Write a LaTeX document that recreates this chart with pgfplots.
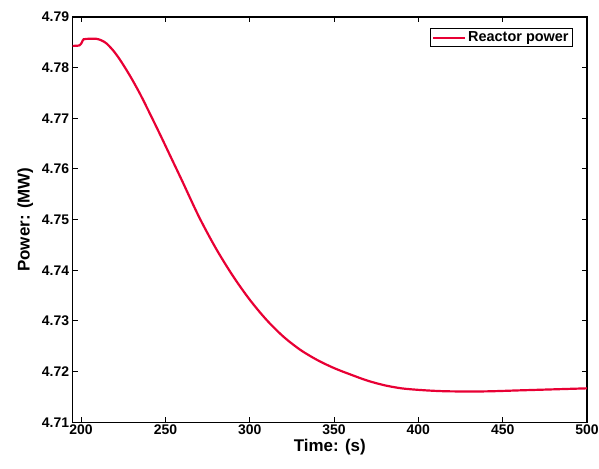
\documentclass[border=0pt]{standalone}
\usepackage{fontspec}
\setmainfont{Liberation Sans}
\usepackage{pgfplots}
\pgfplotsset{compat=1.18}
\definecolor{rp}{RGB}{232,0,52}
\begin{document}
\begin{tikzpicture}[x=1bp,y=1bp]
\begin{axis}[
  scale only axis,
  width=514bp, height=405bp,
  xmin=195, xmax=500, ymin=4.71, ymax=4.79,
  xtick={200,250,...,500},
  ytick={4.71,4.72,4.73,4.74,4.75,4.76,4.77,4.78,4.79},
  scaled y ticks=false,
  yticklabel style={/pgf/number format/.cd,fixed,fixed zerofill,precision=2},
  /pgf/number format/assume math mode=true,
  tick align=inside,
  major tick length=5bp,
  tick style={black, line width=1pt},
  axis line style={black, line width=1.3pt},
  ticklabel style={font=\fontsize{14}{14}\selectfont\bfseries},
  xticklabel style={yshift=1bp},
  xlabel={Time: (s)}, ylabel={Power: (MW)},
  label style={font=\fontsize{17}{17}\selectfont\bfseries},
  xlabel style={yshift=2bp},
  ylabel style={yshift=2bp},
  legend style={at={(0.972,0.973)}, anchor=north east, draw=black, line width=1pt,
    font=\fontsize{14.5}{14.5}\selectfont\bfseries, inner sep=1.5bp},
  legend image code/.code={\draw[#1, line width=2.2pt] (0bp,0bp) -- (32bp,0bp);},
  legend cell align=left,
]
\addplot[rp, line width=2.2pt, smooth, tension=0.5] coordinates {
(195,4.7843)(199,4.7844)(200.5,4.7850)(201.5,4.7856)(205,4.7857)(209,4.7857)
(212,4.7854)(215,4.7848)(219,4.7834)(223,4.7816)(229,4.7784)(235,4.7748)
(241,4.7708)(247,4.7667)(253,4.7625)(260,4.7576)(270,4.7505)
(280,4.7443)(290,4.7389)(300,4.7342)(310,4.7302)(320,4.7269)(330,4.7243)
(340,4.7223)(350,4.7207)(360,4.7194)(370,4.7182)(380,4.7173)(390,4.7167)
(400,4.7164)(410,4.7162)(420,4.7161)(440,4.7161)(460,4.7163)(480,4.7165)(500,4.7167)
};
\addlegendentry{Reactor power}
\end{axis}
\pgfresetboundingbox
\path (current axis.south west) ++(-72.6bp,-46bp) coordinate (bl);
\path (current axis.north east) ++(12bp,17bp) coordinate (tr);
\path (bl) rectangle (tr);
\end{tikzpicture}
\end{document}
